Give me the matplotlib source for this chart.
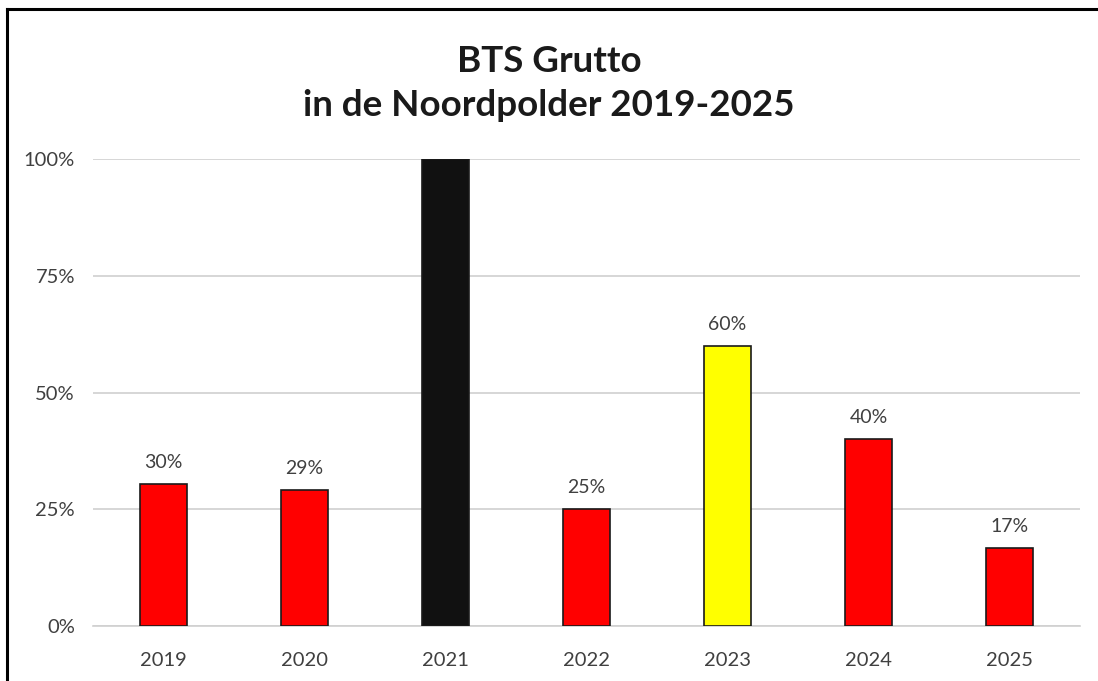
import matplotlib
matplotlib.use("Agg")
import matplotlib.pyplot as plt
from matplotlib.lines import Line2D

years = ["2019", "2020", "2021", "2022", "2023", "2024", "2025"]
values = [0.303, 0.292, 1.00, 0.25, 0.60, 0.40, 0.167]
colors = ["#ff0000", "#ff0000", "#111111", "#ff0000", "#ffff00", "#ff0000", "#ff0000"]
show_label = [True, True, False, True, True, True, True]
yticks = [0, 0.25, 0.5, 0.75, 1.0]
ytick_labels = ["0%", "25%", "50%", "75%", "100%"]

plt.rcParams['font.family'] = ['Lato', 'DejaVu Sans']
fig = plt.figure(figsize=(10.98, 6.81), dpi=100)
ax = fig.add_axes([93/1098, 1-626/681, (1080-93)/1098, (626-159)/681])

x = list(range(len(years)))
bars = ax.bar(x, values, width=0.33, color=colors, edgecolor="#1a1a1a", linewidth=1.2, zorder=3)
for xi, v, s in zip(x, values, show_label):
    if s:
        ax.text(xi, v + 0.028, f"{round(v*100):d}%", ha="center", va="bottom",
                fontsize=14, color="#404040")

ax.set_xlim(-0.5, len(years) - 0.5)
ax.set_ylim(0, 1.0)
ax.set_yticks(yticks)
ax.set_yticklabels(ytick_labels)
ax.set_xticks(x)
ax.set_xticklabels(years)
ax.tick_params(axis="both", length=0, labelsize=14.5, colors="#404040")
ax.tick_params(axis="y", pad=13)
ax.tick_params(axis="x", pad=19)
ax.grid(axis="y", color="#d0d0d0", linewidth=1.2, zorder=0)
for sp in ["top", "right", "left"]:
    ax.spines[sp].set_visible(False)
ax.spines["bottom"].set_color("#d0d0d0")
ax.spines["bottom"].set_linewidth(1.2)

fig.text(0.5, 1 - 61/681, "BTS Grutto", ha="center", va="center",
         fontsize=26.5, fontweight="bold", color="#1a1a1a")
fig.text(0.5, 1 - 106/681, "in de Noordpolder 2019-2025", ha="center", va="center",
         fontsize=26.5, fontweight="bold", color="#1a1a1a")

# outer frame (left and top edges)
fig.add_artist(Line2D([7/1098, 7/1098], [0, 1 - 9/681], transform=fig.transFigure,
                      color="black", linewidth=2.2))
fig.add_artist(Line2D([7/1098, 1], [1 - 9/681, 1 - 9/681], transform=fig.transFigure,
                      color="black", linewidth=2.2))

fig.savefig("out.png", dpi=100)
